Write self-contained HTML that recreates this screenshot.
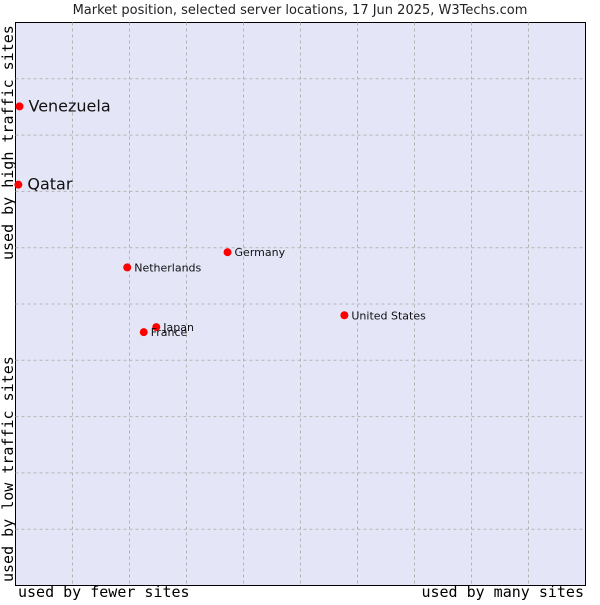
<!DOCTYPE html>
<html><head><meta charset="utf-8"><style>
body{margin:0;background:#fff;width:600px;height:600px;overflow:hidden}
svg{font-family:"DejaVu Sans","Liberation Sans",sans-serif}
</style></head><body>
<svg width="600" height="600" viewBox="0 0 600 600" id="c">
<text x="300" y="14" text-anchor="middle" font-size="13" fill="#222">Market position, selected server locations, 17 Jun 2025, W3Techs.com</text>
<rect x="15.5" y="22.5" width="570" height="563" fill="#e4e6f8" stroke="#000"/>
<g id="grid"></g>
<g id="pts"></g>
<text transform="translate(13,260) rotate(-90)" font-family="DejaVu Sans Mono,Liberation Mono,monospace" font-size="15" fill="#000">used by high traffic sites</text>
<text transform="translate(13,582) rotate(-90)" font-family="DejaVu Sans Mono,Liberation Mono,monospace" font-size="15" fill="#000">used by low traffic sites</text>
<text x="18" y="597" font-family="DejaVu Sans Mono,Liberation Mono,monospace" font-size="15" fill="#000">used by fewer sites</text>
<text x="584" y="597" text-anchor="end" font-family="DejaVu Sans Mono,Liberation Mono,monospace" font-size="15" fill="#000">used by many sites</text>
</svg>
<script>
const names=["Venezuela","Qatar","Netherlands","Germany","Japan","France","United States"];
const xs=[0.7,0.5,19.6,37.2,24.7,22.5,57.7];
const ys=[85.1,71.2,56.5,59.2,45.9,45.0,48.0];
const big=[true,true,false,false,false,false,false];
const X0=15.5,X1=585.5,Y0=585.5,Y1=22.5;
const sx=v=>X0+v/100*(X1-X0), sy=v=>Y0-v/100*(Y0-Y1);
const ns="http://www.w3.org/2000/svg";
const g=document.getElementById('grid'), p=document.getElementById('pts');
for(let i=1;i<10;i++){
 const l=document.createElementNS(ns,'line');
 
 
 l.setAttribute('x1',sx(i*10));l.setAttribute('x2',sx(i*10));l.setAttribute('y1',Y1);l.setAttribute('y2',Y0);
 l.setAttribute('stroke','#b4b4b4');l.setAttribute('stroke-dasharray','3,3');g.appendChild(l);
 const h=document.createElementNS(ns,'line');
 
 
 h.setAttribute('y1',sy(i*10));h.setAttribute('y2',sy(i*10));h.setAttribute('x1',X0);h.setAttribute('x2',X1);
 h.setAttribute('stroke','#b4b4b4');h.setAttribute('stroke-dasharray','3,3');g.appendChild(h);
}
names.forEach((n,i)=>{
 const x=sx(xs[i]),y=sy(ys[i]);
 const c=document.createElementNS(ns,'circle');
 
 
 c.setAttribute('cx',x);c.setAttribute('cy',y);c.setAttribute('r',4);c.setAttribute('fill','#f00');p.appendChild(c);
 const t=document.createElementNS(ns,'text');
 
 
 t.setAttribute('x',x+(big[i]?9:7));t.setAttribute('y',y+(big[i]?5:4));
 t.setAttribute('font-size',big[i]?16:11);t.setAttribute('fill','#111');t.textContent=n;p.appendChild(t);
});
</script>
</body></html>
